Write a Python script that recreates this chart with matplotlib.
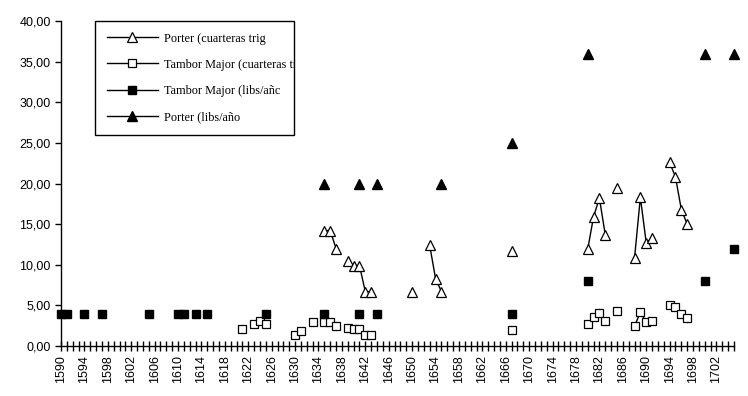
import matplotlib.pyplot as plt
import numpy as np
from matplotlib.ticker import FuncFormatter, MultipleLocator, FixedLocator
from matplotlib.patches import Rectangle
from matplotlib.transforms import Bbox

### DATA
# Porter (cuarteras trigo) - open triangles
porter_trigo_years = [1635, 1636, 1637, 1639, 1640, 1641, 1642, 1643, 1650, 1653, 1654, 1655,
                      1667, 1680, 1681, 1682, 1683, 1685, 1688, 1689, 1690, 1691,
                      1694, 1695, 1696, 1697]
porter_trigo_vals = [14.2, 14.2, 12.0, 10.5, 9.9, 9.9, 6.7, 6.7, 6.7, 12.4, 8.3, 6.7,
                     11.7, 11.9, 15.9, 18.2, 13.7, 19.4, 10.8, 18.3, 12.7, 13.3,
                     22.6, 20.8, 16.8, 15.0]

# Tambor Major (cuarteras trigo) - open squares
tambor_trigo_years = [1621, 1623, 1624, 1625, 1630, 1631, 1633, 1635, 1636, 1637, 1639, 1640,
                      1641, 1642, 1643, 1667, 1680, 1681, 1682, 1683, 1685, 1688, 1689, 1690,
                      1691, 1694, 1695, 1696, 1697]
tambor_trigo_vals = [2.05, 2.75, 3.1, 2.75, 1.3, 1.8, 2.9, 2.9, 2.9, 2.45, 2.25, 2.05,
                     2.05, 1.4, 1.4, 2.0, 2.75, 3.6, 4.1, 3.1, 4.35, 2.45, 4.15, 2.95,
                     3.1, 5.1, 4.8, 3.9, 3.4]

# Tambor Major (libs/año) - filled squares
tambor_libs_years = [1590, 1591, 1594, 1597, 1605, 1610, 1611, 1613, 1615, 1625, 1635, 1641,
                     1644, 1667, 1680, 1700, 1705]
tambor_libs_vals = [4, 4, 4, 4, 4, 4, 4, 4, 4, 4, 4, 4, 4, 4, 8, 8, 12]

# Porter (libs/año) - filled triangles
porter_libs_years = [1635, 1641, 1644, 1655, 1667, 1680, 1700, 1705]
porter_libs_vals = [20, 20, 20, 20, 25, 36, 36, 36]

legend_labels = ["Porter (cuarteras trig", "Tambor Major (cuarteras trig",
                 "Tambor Major (libs/añc", "Porter (libs/año"]

years = np.arange(1590, 1706)
label_years = list(range(1590, 1706, 4))


def to_series(yrs, vals):
    # one value per year, gaps as NaN so only consecutive years get joined
    s = np.full(len(years), np.nan)
    for y, v in zip(yrs, vals):
        s[y - 1590] = v
    return s


W, H = 748, 396
fig = plt.figure(figsize=(W / 100, H / 100), dpi=100)
ax = fig.add_axes([61 / W, 1 - 346 / H, 673 / W, 325 / H])

ax.plot(years, to_series(porter_trigo_years, porter_trigo_vals), color="black", lw=1,
        marker="^", ms=7, mfc="white", mec="black", mew=0.9, clip_on=False,
        label=legend_labels[0])
ax.plot(years, to_series(tambor_trigo_years, tambor_trigo_vals), color="black", lw=1,
        marker="s", ms=5.5, mfc="white", mec="black", mew=0.9, clip_on=False,
        label=legend_labels[1])
ax.plot(years, to_series(tambor_libs_years, tambor_libs_vals), color="black", lw=1,
        marker="s", ms=5.5, mfc="black", mec="black", clip_on=False,
        label=legend_labels[2])
ax.plot(years, to_series(porter_libs_years, porter_libs_vals), color="black", lw=1,
        marker="^", ms=7, mfc="black", mec="black", clip_on=False,
        label=legend_labels[3])

ax.set_xlim(1590, 1705)
ax.set_ylim(0, 40)

for s in ["top", "right"]:
    ax.spines[s].set_visible(False)
ax.spines["left"].set_linewidth(1)
ax.spines["bottom"].set_linewidth(1)

ax.yaxis.set_major_locator(MultipleLocator(5))
ax.yaxis.set_major_formatter(FuncFormatter(lambda v, p: f"{v:.2f}".replace(".", ",")))
ax.xaxis.set_major_locator(FixedLocator(label_years))
ax.xaxis.set_minor_locator(MultipleLocator(1))
ax.tick_params(axis="x", which="both", direction="inout", length=7, width=1, labelrotation=90,
               labelsize=9, pad=3)
ax.tick_params(axis="y", direction="out", length=4, width=1, labelsize=9)
for lbl in ax.get_xticklabels() + ax.get_yticklabels():
    lbl.set_family("Liberation Sans")

# legend box like the original: fixed size frame, long label cut at the border
box_l, box_t, box_r, box_b = 95, 21, 294, 135
leg = ax.legend(loc="upper left", bbox_to_anchor=((box_l + 8) / W, 1 - (box_t + 8) / H),
                bbox_transform=fig.transFigure, borderaxespad=0, frameon=False,
                borderpad=0.3, labelspacing=1.15, handlelength=4.2, handletextpad=0.45,
                prop={"family": "Liberation Serif", "size": 8.8})
clip = Bbox.from_extents(box_l, H - box_b, box_r, H - box_t)
for t in leg.get_texts():
    t.set_clip_box(clip)
    t.set_clip_on(True)
fig.patches.append(Rectangle((box_l / W, 1 - box_b / H), (box_r - box_l) / W,
                             (box_b - box_t) / H, transform=fig.transFigure,
                             fill=False, edgecolor="black", lw=1, zorder=10))

fig.savefig("out.png", dpi=100)
